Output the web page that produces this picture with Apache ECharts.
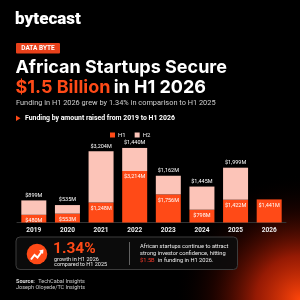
<!DOCTYPE html>
<html><head><meta charset="utf-8">
<script src="https://cdn.jsdelivr.net/npm/echarts@6/dist/echarts.min.js"></script>
<style>html,body{margin:0;padding:0;background:#000}#c{width:300px;height:300px}</style>
</head><body><div id="c"></div>
<script>
const years = ['2019','2020','2021','2022','2023','2024','2025','2026'];
const h1 = [480, 553, 1248, 3214, 1756, 798, 1422, 1441];
const h2 = [899, 535, 3204, 1440, 1162, 1445, 1999, null];
const seriesNames = ['H1','H2'];
const fmt = v => '$' + v.toLocaleString('en-US') + 'M';

const ORANGE = '#ff4a17';
const PINK = '#fcc4b8';
const F = 'Roboto, "Noto Sans", sans-serif';
const FT = 'Inter, Roboto, sans-serif';

const chart = echarts.init(document.getElementById('c'), null, {renderer:'canvas'});
chart.setOption({
  backgroundColor: '#000',
  animation: false,
  grid: {left: 17, right: 14, top: 140, bottom: 77.5},
  legend: {
    data: seriesNames, left: 105, top: 127, itemWidth: 5, itemHeight: 5, itemGap: 9,
    icon: 'rect',
    textStyle: {color: '#eee', fontSize: 6, fontFamily: F, padding: [0,0,0,-2]}
  },
  xAxis: {
    type: 'category', data: years,
    axisLine: {lineStyle: {color: '#333', width: 1}},
    axisTick: {show: false},
    axisLabel: {color: '#eee', fontSize: 6.5, fontWeight: 'bold', fontFamily: F, margin: 4}
  },
  yAxis: {type: 'value', min: 0, max: 5150, show: false, splitLine: {show: false}},
  series: [
    {name: 'H1', type: 'bar', stack: 't', data: h1, barWidth: 25,
     itemStyle: {color: ORANGE},
     label: {show: true, position: 'insideTop', distance: 3, color: '#fff', fontSize: 5.5, fontFamily: F,
             formatter: p => fmt(p.value)}},
    {name: 'H2', type: 'bar', stack: 't', data: h2, barWidth: 25,
     itemStyle: {color: PINK},
     label: {show: true, position: 'top', distance: 2, color: '#fff', fontSize: 5.5, fontFamily: F,
             formatter: p => fmt(p.value)}}
  ],
  graphic: [
    {type: 'rect', z: -10, shape: {x: 0, y: 0, width: 300, height: 300}, silent: true,
     style: {fill: new echarts.graphic.RadialGradient(1, 1, 0.42, [
       {offset: 0, color: 'rgba(255,70,10,1)'},
       {offset: 0.35, color: 'rgba(200,35,5,0.75)'},
       {offset: 0.7, color: 'rgba(90,10,0,0.3)'},
       {offset: 1, color: 'rgba(0,0,0,0)'}])}},
    {type: 'text', left: 15, top: 11, style: {text: 'bytecast', fill: '#fff', fontSize: 17, fontWeight: 900, fontFamily: F}},
    {type: 'rect', shape: {x: 16, y: 43, width: 44, height: 10.5, r: 1}, style: {fill: '#e8401a'}},
    {type: 'text', x: 38, y: 48.5, style: {text: 'DATA BYTE', fill: '#fff', fontSize: 6.5, fontWeight: 'bold', fontFamily: F, align: 'center', verticalAlign: 'middle'}},
    {type: 'text', x: 15.5, y: 67.5, style: {text: 'African Startups Secure', fill: '#fff', fontSize: 18, fontWeight: 'bold', fontFamily: FT, verticalAlign: 'middle'}},
    {type: 'text', x: 15.5, y: 87.5, style: {
      rich: {o: {fill: ORANGE, fontSize: 18, fontWeight: 'bold', fontFamily: FT},
             w: {fill: '#fff', fontSize: 18, fontWeight: 'bold', fontFamily: FT}},
      text: '{o|$1.5 Billion} {w|in H1 2026}', verticalAlign: 'middle'}},
    {type: 'text', x: 16, y: 103.5, style: {text: 'Funding in H1 2026 grew by 1.34% in comparison to H1 2025', fill: '#cfcfcf', fontSize: 7.4, fontFamily: F, verticalAlign: 'middle'}},
    {type: 'polygon', shape: {points: [[16,115.5],[20.5,118.2],[16,121]]}, style: {fill: ORANGE}},
    {type: 'text', x: 25, y: 118.5, style: {text: 'Funding by amount raised from 2019 to H1 2026', fill: '#fff', fontSize: 6.9, fontWeight: 'bold', fontFamily: F, verticalAlign: 'middle'}},
    {type: 'rect', shape: {x: 16, y: 237, width: 221.5, height: 32.5, r: 4}, style: {fill: 'rgba(12,12,12,0.9)', stroke: '#3c3c3c', lineWidth: 1}},
    {type: 'circle', shape: {cx: 37, cy: 254, r: 10.3}, style: {fill: ORANGE}},
    {type: 'polyline', shape: {points: [[31,259.5],[34.5,255],[37.5,257.5],[41.5,252]]}, style: {stroke: '#fff', lineWidth: 2, fill: null}},
    {type: 'polygon', shape: {points: [[39,250.5],[43.5,249.5],[43,254]]}, style: {fill: '#fff'}},
    {type: 'text', x: 53, y: 249, style: {text: '1.34%', fill: ORANGE, fontSize: 15.5, fontWeight: 'bold', fontFamily: F, verticalAlign: 'middle', letterSpacing: 1.2}},
    {type: 'text', x: 54, y: 259.5, style: {text: 'growth in H1 2026', fill: '#eee', fontSize: 5.5, fontFamily: F, verticalAlign: 'middle'}},
    {type: 'text', x: 54, y: 264.8, style: {text: 'compared to H1 2025', fill: '#eee', fontSize: 5.5, fontFamily: F, verticalAlign: 'middle'}},
    {type: 'line', shape: {x1: 129.5, y1: 242, x2: 129.5, y2: 265}, style: {stroke: '#777', lineWidth: 0.8}},
    {type: 'text', x: 140, y: 246.8, style: {text: 'African startups continue to attract', fill: '#eee', fontSize: 5.7, fontFamily: F, verticalAlign: 'middle'}},
    {type: 'text', x: 140, y: 253.8, style: {text: 'strong investor confidence, hitting', fill: '#eee', fontSize: 5.7, fontFamily: F, verticalAlign: 'middle'}},
    {type: 'text', x: 140, y: 260.8, style: {
      rich: {r: {fill: '#ff3a2a', fontSize: 5.7, fontFamily: F}, w: {fill: '#eee', fontSize: 5.7, fontFamily: F}},
      text: '{r|$1.5B} {w|in funding in H1 2026.}', verticalAlign: 'middle'}},
    {type: 'text', x: 16, y: 281.5, style: {
      rich: {b: {fill: '#ddd', fontSize: 5.5, fontWeight: 'bold', fontFamily: F}, n: {fill: '#ccc', fontSize: 5.5, fontFamily: F}},
      text: '{b|Source:} {n|TechCabal Insights}', verticalAlign: 'middle'}},
    {type: 'text', x: 16, y: 287.8, style: {text: 'Joseph Oloyede/TC Insights', fill: '#ccc', fontSize: 5.5, fontFamily: F, verticalAlign: 'middle'}}
  ]
});
</script></body></html>
